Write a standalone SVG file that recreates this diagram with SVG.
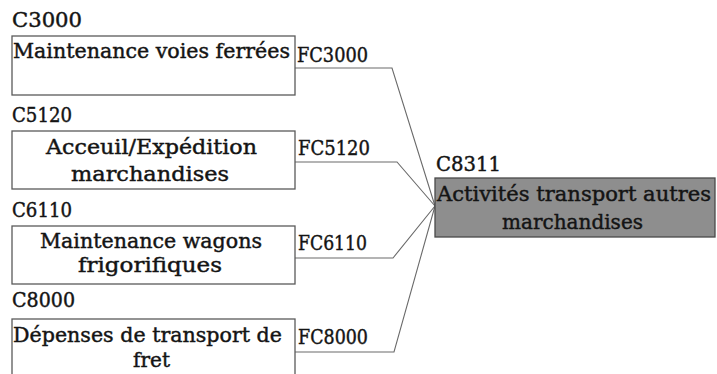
<svg xmlns="http://www.w3.org/2000/svg" width="717" height="374" viewBox="0 0 717 374">
<style>
text{font-family:"DejaVu Serif","Liberation Serif",serif;font-size:21px;fill:#141414;stroke:#141414;stroke-width:0.45}
.box{fill:#fff;stroke:#5a5a5a;stroke-width:1.3}
.tgt{fill:#8e8e8e;stroke:#4a4a4a;stroke-width:1.3}
.con{fill:none;stroke:#6a6a6a;stroke-width:1.1}
</style>
<rect width="717" height="374" fill="#fff"/>
<g id="connectors">
<polyline class="con" points="295,68 392,68 435,206"/>
<polyline class="con" points="295,162 397,162 435,206"/>
<polyline class="con" points="295,258 393,258 435,206"/>
<polyline class="con" points="295,352 394,352 435,206"/>
</g>
<g id="C3000">
<text x="12" y="27" textLength="70" lengthAdjust="spacingAndGlyphs">C3000</text>
<rect class="box" x="12" y="36" width="283" height="59"/>
<text x="13" y="58" textLength="277" lengthAdjust="spacingAndGlyphs">Maintenance voies ferrées</text>
<text x="297" y="62" textLength="71" lengthAdjust="spacingAndGlyphs">FC3000</text>
</g>
<g id="C5120">
<text x="12" y="122" textLength="60" lengthAdjust="spacingAndGlyphs">C5120</text>
<rect class="box" x="12" y="131" width="283" height="58"/>
<text x="46" y="154" textLength="211" lengthAdjust="spacingAndGlyphs">Acceuil/Expédition</text>
<text x="71" y="181" textLength="158" lengthAdjust="spacingAndGlyphs">marchandises</text>
<text x="298" y="155" textLength="72" lengthAdjust="spacingAndGlyphs">FC5120</text>
</g>
<g id="C6110">
<text x="12" y="217" textLength="60" lengthAdjust="spacingAndGlyphs">C6110</text>
<rect class="box" x="12" y="226" width="283" height="58"/>
<text x="40" y="248" textLength="222" lengthAdjust="spacingAndGlyphs">Maintenance wagons</text>
<text x="78" y="272" textLength="144" lengthAdjust="spacingAndGlyphs">frigorifiques</text>
<text x="298" y="250" textLength="69" lengthAdjust="spacingAndGlyphs">FC6110</text>
</g>
<g id="C8000">
<text x="12" y="307" textLength="63" lengthAdjust="spacingAndGlyphs">C8000</text>
<rect class="box" x="12" y="319" width="283" height="70"/>
<text x="13" y="342" textLength="269" lengthAdjust="spacingAndGlyphs">Dépenses de transport de</text>
<text x="133" y="367" textLength="37" lengthAdjust="spacingAndGlyphs">fret</text>
<text x="298" y="344" textLength="70" lengthAdjust="spacingAndGlyphs">FC8000</text>
</g>
<g id="C8311">
<text x="436" y="171" textLength="65" lengthAdjust="spacingAndGlyphs">C8311</text>
<rect class="tgt" x="435" y="178" width="280" height="59"/>
<text x="437" y="201" textLength="274" lengthAdjust="spacingAndGlyphs">Activités transport autres</text>
<text x="502" y="229" textLength="141" lengthAdjust="spacingAndGlyphs">marchandises</text>
</g>
</svg>
